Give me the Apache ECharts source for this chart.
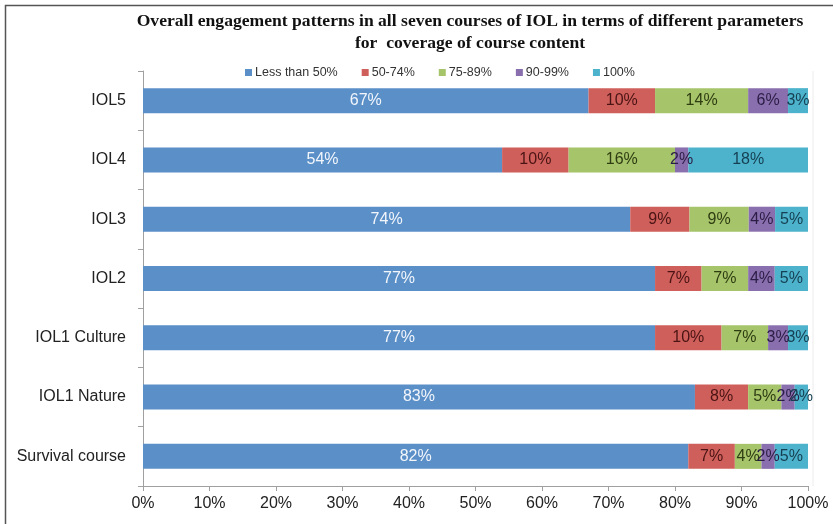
<!DOCTYPE html>
<html><head><meta charset="utf-8">
<script src="https://cdn.jsdelivr.net/npm/echarts@6/dist/echarts.min.js"></script>
<style>html,body{margin:0;padding:0;background:#fff}#c{width:833px;height:524px}</style>
</head><body><div id="c"></div>
<script>
const categories = ['Survival course','IOL1 Nature','IOL1 Culture','IOL2','IOL3','IOL4','IOL5'];
const seriesNames = ['Less than 50%','50-74%','75-89%','90-99%','100%'];
const lessThan50 = [82,83,77,77,74,54,67];
const p50to74   = [7,8,10,7,9,10,10];
const p75to89   = [4,5,7,7,9,16,14];
const p90to99   = [2,2,3,4,4,2,6];
const p100      = [5,2,3,5,5,18,3];
const xTicks = ['0%','10%','20%','30%','40%','50%','60%','70%','80%','90%','100%'];

const raw = [lessThan50,p50to74,p75to89,p90to99,p100];
const colors = ['#5b8fc8','#cf5f5b','#a6c46a','#8a6fae','#4db3cc'];
const labelColors = ['#f2f6fb','#4a1414','#2f3d12','#2b1d45','#153f52'];
const rowSum = categories.map((c,i)=>raw.reduce((s,a)=>s+a[i],0));
const font = "'Liberation Sans Narrow','Liberation Sans',Arial,sans-serif";

const series = raw.map((arr,k)=>({
  name: seriesNames[k], type:'bar', stack:'t', barWidth: 25,
  itemStyle:{color:colors[k]},
  data: arr.map((v,i)=>({value: v/rowSum[i]*100, orig: v})),
  label:{show:true, position:'inside', color:labelColors[k], fontFamily:font, fontSize:16,
    formatter: p=>p.data.orig+'%'}
}));

const chart = echarts.init(document.getElementById('c'), null, {renderer:'canvas'});
chart.setOption({
  animation:false,
  title:{text:'Overall engagement patterns in all seven courses of IOL in terms of different parameters\nfor  coverage of course content',
    left:465, top:5, textAlign:'center',
    textStyle:{fontFamily:"'Liberation Serif','Times New Roman',serif", fontWeight:'bold', fontSize:17.6, lineHeight:22, color:'#111'}},
  legend:{top:61, left:240, itemWidth:7, itemHeight:7, itemGap:24, icon:'rect',
    textStyle:{fontFamily:font, fontSize:12.5, color:'#333', padding:[0,0,0,-2]},
    data: seriesNames},
  grid:{left:143, right:25, top:71, bottom:38},
  xAxis:{type:'value', min:0, max:100, interval:10,
    axisLine:{show:true, lineStyle:{color:'#a0a0a0'}},
    axisTick:{show:true, length:5, lineStyle:{color:'#a0a0a0'}},
    splitLine:{show:false},
    axisLabel:{fontFamily:font, fontSize:16, color:'#222', margin:10, formatter:(v)=>xTicks[Math.round(v/10)]}},
  yAxis:{type:'category', data:categories,
    axisLine:{show:true, lineStyle:{color:'#a0a0a0'}},
    axisTick:{show:true, length:5, lineStyle:{color:'#a0a0a0'}},
    axisLabel:{fontFamily:font, fontSize:16, color:'#222', margin:17}},
  graphic:[
    {type:'rect', shape:{x:5.5,y:5.5,width:900,height:600}, style:{fill:'none', stroke:'#555', lineWidth:1.5}},
    {type:'line', shape:{x1:813,y1:71,x2:813,y2:486}, style:{stroke:'#ececec', lineWidth:1}}
  ],
  series
});
</script></body></html>
